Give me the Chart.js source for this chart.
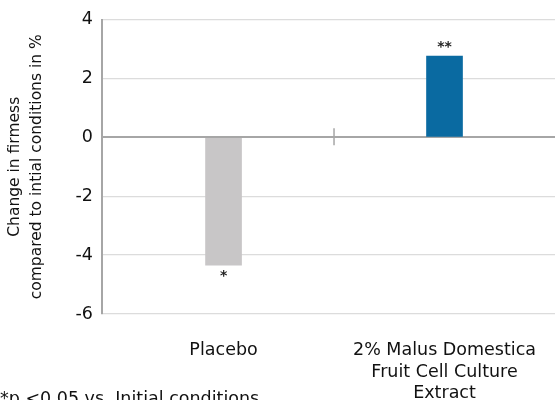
<!DOCTYPE html>
<html>
<head>
<meta charset="utf-8">
<script src="https://cdn.jsdelivr.net/npm/chart.js@4/dist/chart.umd.min.js"></script>
<style>
  html, body { margin: 0; padding: 0; background: #ffffff; }
  #wrap { position: relative; width: 555px; height: 400px; }
</style>
</head>
<body>
<div id="wrap"><canvas id="chart"></canvas></div>
<script>
// Firmness change per treatment group
const categories = ['Placebo', ['2% Malus Domestica', 'Fruit Cell Culture', 'Extract']];
const firmnessChange = [-4.34, 2.76];
const significance = ['*', '**'];
const barColors = ['#c8c6c7', '#0a6aa1'];
const yTicks = [4, 2, 0, -2, -4, -6];
const yTitle = ['Change in firmess', 'compared to intial conditions in %'];
const footnote = '*p <0.05 vs. Initial conditions';

const FONT = "'DejaVu Sans', 'Noto Sans', sans-serif";

// significance marks above positive bars and below negative ones
const sigLabels = {
  id: 'sigLabels',
  afterDatasetsDraw(chart) {
    const ctx = chart.ctx;
    const meta = chart.getDatasetMeta(0);
    ctx.save();
    ctx.fillStyle = '#222222';
    ctx.font = 'bold 14px ' + FONT;
    ctx.textAlign = 'center';
    ctx.textBaseline = 'middle';
    meta.data.forEach((bar, i) => {
      const v = firmnessChange[i];
      const y = v >= 0 ? bar.y - 9 : bar.y + 11;
      ctx.fillText(significance[i], bar.x, y);
    });
    ctx.restore();
  }
};

// short divider tick between the two groups, crossing the zero line
const groupDivider = {
  id: 'groupDivider',
  afterDraw(chart) {
    const x = chart.scales.x.getPixelForValue(0.5);
    const y0 = chart.scales.y.getPixelForValue(0);
    const ctx = chart.ctx;
    ctx.save();
    ctx.strokeStyle = '#a6a6a6';
    ctx.lineWidth = 1.5;
    ctx.beginPath();
    ctx.moveTo(x, y0 - 9);
    ctx.lineTo(x, y0 + 8);
    ctx.stroke();
    ctx.restore();
  }
};

// footnote text at the lower left
const footnotePlugin = {
  id: 'footnotePlugin',
  afterDraw(chart) {
    const ctx = chart.ctx;
    ctx.save();
    ctx.fillStyle = '#111111';
    ctx.font = '17.5px ' + FONT;
    ctx.textAlign = 'left';
    ctx.textBaseline = 'alphabetic';
    ctx.fillText(footnote, 0, 404);
    ctx.restore();
  }
};

new Chart(document.getElementById('chart'), {
  type: 'bar',
  data: {
    datasets: [{
      data: firmnessChange.map((v, i) => ({ x: i, y: v })),
      backgroundColor: barColors,
      barThickness: 36,
      borderWidth: 0
    }]
  },
  options: {
    responsive: true,
    maintainAspectRatio: false,
    animation: false,
    layout: { padding: { top: 17, right: 0, bottom: 0, left: 0 } },
    plugins: {
      legend: { display: false },
      tooltip: { enabled: false }
    },
    scales: {
      x: {
        type: 'linear',
        offset: false,
        min: -0.55,
        max: 1.5,
        grid: { display: false, drawTicks: false },
        border: { display: false },
        afterBuildTicks(scale) {
          scale.ticks = categories.map((c, i) => ({ value: i }));
        },
        afterFit(scale) {
          scale.height = 86;
          scale.paddingLeft = 0;
          scale.paddingRight = 0;
        },
        ticks: {
          autoSkip: false,
          maxRotation: 0,
          padding: 26,
          color: '#111111',
          font: { family: FONT, size: 17.5, lineHeight: 1.23 },
          callback: (v) => categories[v]
        }
      },
      y: {
        min: -6,
        max: 4,
        afterBuildTicks(scale) {
          scale.ticks = yTicks.map(v => ({ value: v }));
        },
        afterFit(scale) { scale.width = 102; },
        grid: {
          color: (c) => c.tick && c.tick.value === 0 ? '#a6a6a6' : '#dcdcdc',
          lineWidth: (c) => c.tick && c.tick.value === 0 ? 2 : 1.3,
          drawTicks: false
        },
        border: { display: true, color: '#a6a6a6', width: 2 },
        ticks: {
          padding: 9,
          color: '#111111',
          font: { family: FONT, size: 17.5 }
        },
        title: {
          display: true,
          text: yTitle,
          color: '#111111',
          font: { family: FONT, size: 15.5, lineHeight: 1.4 },
          padding: { top: 4, bottom: 0 }
        }
      }
    }
  },
  plugins: [sigLabels, groupDivider, footnotePlugin]
});
</script>
</body>
</html>
